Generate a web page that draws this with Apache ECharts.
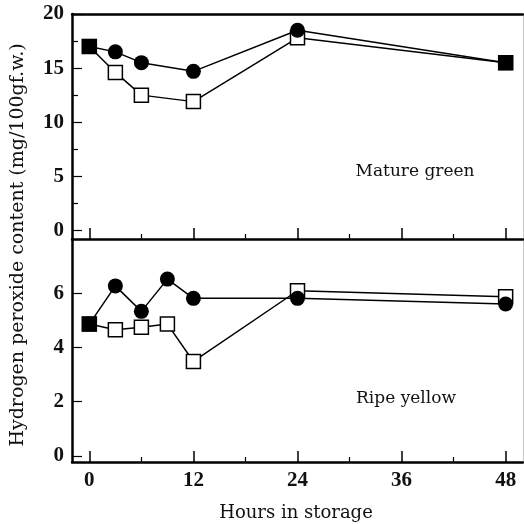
<!DOCTYPE html>
<html><head><meta charset="utf-8">
<script src="https://cdn.jsdelivr.net/npm/echarts@6/dist/echarts.min.js"></script>
<style>html,body{margin:0;padding:0;background:#fff}#c{width:524px;height:524px}</style>
</head><body><div id="c"></div>
<script>
// Data
const matureHours = [0, 3, 6, 12, 24, 48];
const matureFilled = [17.0, 16.5, 15.5, 14.7, 18.5, 15.5];
const matureOpen = [17.0, 14.6, 12.5, 11.9, 17.8, 15.5];
const ripeHours = [0, 3, 6, 9, 12, 24, 48];
const ripeFilled = [4.86, 6.27, 5.33, 6.52, 5.81, 5.81, 5.6];
const ripeOpen = [4.86, 4.65, 4.74, 4.86, 3.48, 6.09, 5.87];
// Tick labels
const xMajorTicks = [0, 12, 24, 36, 48];
const xMinorTicks = [6, 18, 30, 42];
const topMajorTicks = [0, 5, 10, 15, 20];
const topMinorTicks = [2.5, 7.5, 12.5, 17.5];
const bottomMajorTicks = [0, 2, 4, 6];
const panelLabels = ['Mature green', 'Ripe yellow'];
const xTitle = 'Hours in storage';
const yTitle = 'Hydrogen peroxide content (mg/100gf.w.)';

const SERIF = '"DejaVu Serif","Liberation Serif",serif';
const NUMF = '"Liberation Serif","DejaVu Serif",serif';
const chart = echarts.init(document.getElementById('c'), null, {renderer: 'canvas'});

function pairs(xs, ys) { return xs.map((x, i) => [x, ys[i]]); }
function filledData(xs, ys, other) {
  return xs.map((x, i) => {
    const same = ys[i] === other[i];
    return same ? {value: [x, ys[i]], symbol: 'rect', symbolSize: 15} : [x, ys[i]];
  });
}

const axisLine = {show: true, onZero: false, lineStyle: {color: '#000', width: 2.5}};
const noLine = {show: false, onZero: false};
const labelStyle = {color: '#111', fontFamily: NUMF, fontSize: 21, fontWeight: 'bold'};

function xAxes(gridIndex, showLabels) {
  return [
    {type: 'value', gridIndex, min: -2, max: 50, position: 'bottom',
     axisLine: axisLine, splitLine: {show: false},
     axisTick: {show: true, inside: true, length: 11, customValues: xMajorTicks, lineStyle: {color: '#000', width: 1.5}},
     axisLabel: {show: showLabels, customValues: xMajorTicks, margin: 8, ...labelStyle}},
    {type: 'value', gridIndex, min: -2, max: 50, position: 'bottom',
     axisLine: noLine, splitLine: {show: false},
     axisTick: {show: true, inside: true, length: 5, customValues: xMinorTicks, lineStyle: {color: '#000', width: 1.2}},
     axisLabel: {show: false}}
  ];
}

const option = {
  animation: false,
  backgroundColor: '#fff',
  grid: [
    {left: 72, right: 1, top: 14, height: 225},
    {left: 72, right: 1, top: 239, height: 223}
  ],
  xAxis: [
    ...xAxes(0, false),
    ...xAxes(1, true),
    {type: 'value', gridIndex: 0, min: -2, max: 50, position: 'top',
     axisLine: axisLine, axisTick: {show: false}, axisLabel: {show: false}, splitLine: {show: false}}
  ],
  yAxis: [
    {type: 'value', gridIndex: 0, min: -0.8, max: 20, position: 'left',
     axisLine: axisLine, splitLine: {show: false},
     axisTick: {show: true, inside: true, length: 10, customValues: topMajorTicks, lineStyle: {color: '#000', width: 1.2}},
     axisLabel: {customValues: topMajorTicks, margin: 8, ...labelStyle}},
    {type: 'value', gridIndex: 0, min: -0.8, max: 20, position: 'left',
     axisLine: noLine, splitLine: {show: false},
     axisTick: {show: true, inside: true, length: 6, customValues: topMinorTicks, lineStyle: {color: '#000', width: 1.2}},
     axisLabel: {show: false}},
    {type: 'value', gridIndex: 1, min: -0.23, max: 8, position: 'left',
     axisLine: axisLine, splitLine: {show: false},
     axisTick: {show: true, inside: true, length: 10, customValues: bottomMajorTicks, lineStyle: {color: '#000', width: 1.2}},
     axisLabel: {customValues: bottomMajorTicks, margin: 8, ...labelStyle}},
    {type: 'value', gridIndex: 0, min: -0.8, max: 20, position: 'right',
     axisLine: {show: true, onZero: false, lineStyle: {color: '#c8c8c8', width: 1}}, axisTick: {show: false}, axisLabel: {show: false}, splitLine: {show: false}},
    {type: 'value', gridIndex: 1, min: -0.23, max: 8, position: 'right',
     axisLine: {show: true, onZero: false, lineStyle: {color: '#c8c8c8', width: 1}}, axisTick: {show: false}, axisLabel: {show: false}, splitLine: {show: false}}
  ],
  series: [
    {type: 'line', xAxisIndex: 0, yAxisIndex: 0, data: pairs(matureHours, matureOpen),
     symbol: 'rect', symbolSize: 14, showSymbol: true,
     lineStyle: {color: '#000', width: 1.5}, itemStyle: {color: '#fff', borderColor: '#000', borderWidth: 1.5}, z: 2},
    {type: 'line', xAxisIndex: 0, yAxisIndex: 0, data: filledData(matureHours, matureFilled, matureOpen),
     symbol: 'circle', symbolSize: 15, showSymbol: true,
     lineStyle: {color: '#000', width: 1.5}, itemStyle: {color: '#000', borderColor: '#000', borderWidth: 0}, z: 3},
    {type: 'line', xAxisIndex: 2, yAxisIndex: 2, data: pairs(ripeHours, ripeOpen),
     symbol: 'rect', symbolSize: 14, showSymbol: true,
     lineStyle: {color: '#000', width: 1.5}, itemStyle: {color: '#fff', borderColor: '#000', borderWidth: 1.5}, z: 2},
    {type: 'line', xAxisIndex: 2, yAxisIndex: 2, data: filledData(ripeHours, ripeFilled, ripeOpen),
     symbol: 'circle', symbolSize: 15, showSymbol: true,
     lineStyle: {color: '#000', width: 1.5}, itemStyle: {color: '#000', borderColor: '#000', borderWidth: 0}, z: 3}
  ],
  graphic: [
    {type: 'text', x: 415, y: 172, style: {text: panelLabels[0], font: '17px ' + SERIF, fill: '#111', align: 'center', verticalAlign: 'middle'}},
    {type: 'text', x: 406, y: 399, style: {text: panelLabels[1], font: '17px ' + SERIF, fill: '#111', align: 'center', verticalAlign: 'middle'}},
    {type: 'text', x: 296, y: 513, style: {text: xTitle, font: '18px ' + SERIF, fill: '#111', align: 'center', verticalAlign: 'middle'}},
    {type: 'text', x: 18, y: 245, rotation: Math.PI / 2,
     style: {text: yTitle, font: '19px ' + SERIF, fill: '#111', align: 'center', verticalAlign: 'middle'}}
  ]
};
chart.setOption(option);
</script>
</body></html>
